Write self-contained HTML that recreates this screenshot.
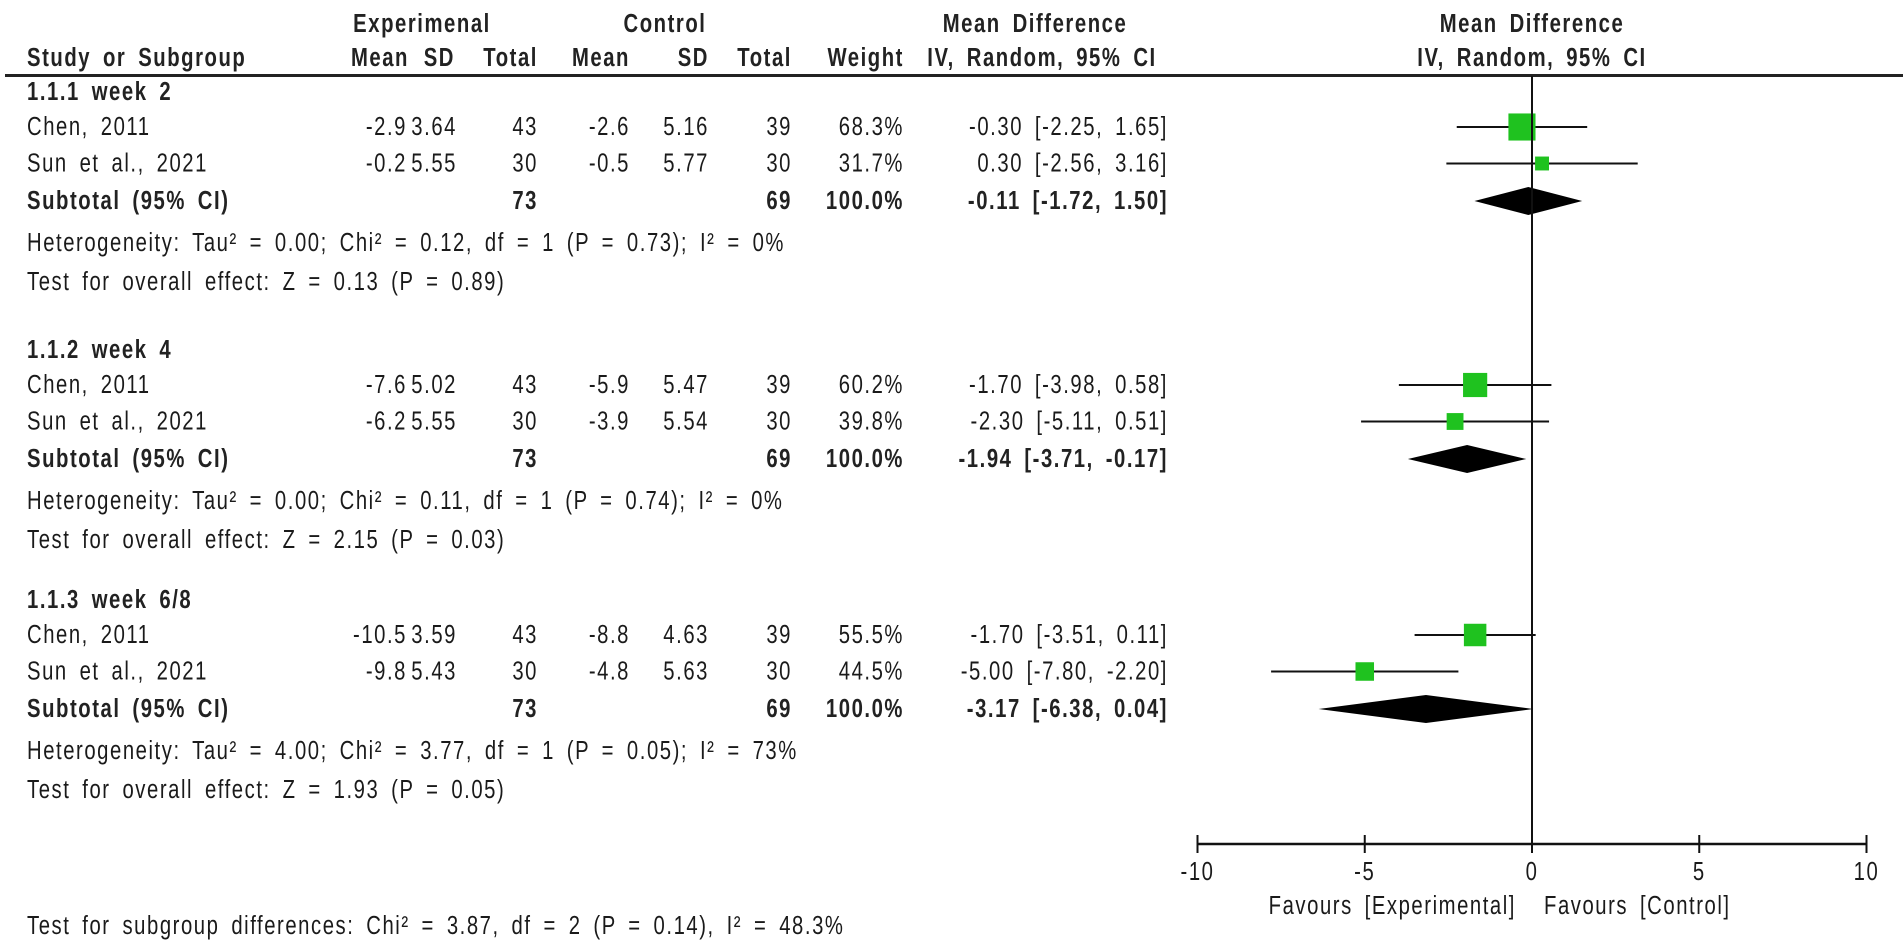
<!DOCTYPE html>
<html><head><meta charset="utf-8"><style>
html,body{margin:0;padding:0;background:#fff;}
svg{display:block;font-family:"Liberation Sans Narrow","Liberation Sans",sans-serif;}
text{font-size:26px;fill:#1a1a1a;letter-spacing:2px;word-spacing:6px;}
.b{font-weight:bold;fill:#222;}
</style></head><body>
<svg id="plot" width="1903" height="941" viewBox="0 0 1903 941">
<g>
<text class="b" x="422" y="32" text-anchor="middle">Experimenal</text>
<text class="b" x="665" y="32" text-anchor="middle">Control</text>
<text class="b" x="1035" y="32" text-anchor="middle">Mean Difference</text>
<text class="b" x="1532" y="32" text-anchor="middle">Mean Difference</text>
<text class="b" x="27" y="66">Study or Subgroup</text>
<text class="b" x="409" y="66" text-anchor="end">Mean</text>
<text class="b" x="455" y="66" text-anchor="end">SD</text>
<text class="b" x="538" y="66" text-anchor="end">Total</text>
<text class="b" x="630" y="66" text-anchor="end">Mean</text>
<text class="b" x="709" y="66" text-anchor="end">SD</text>
<text class="b" x="792" y="66" text-anchor="end">Total</text>
<text class="b" x="904" y="66" text-anchor="end">Weight</text>
<text class="b" x="1042" y="66" text-anchor="middle">IV, Random, 95% CI</text>
<text class="b" x="1532" y="66" text-anchor="middle">IV, Random, 95% CI</text>
<rect x="5" y="74" width="1898" height="3" fill="#222"/>
</g>
<g id="rows"></g>
<g id="marks"></g>
<text x="27" y="934">Test for subgroup differences: Chi² = 3.87, df = 2 (P = 0.14), I² = 48.3%</text>
</svg>
<script>
const groups = ["1.1.1 week 2","1.1.2 week 4","1.1.3 week 6/8"];
const studies = ["Chen, 2011","Sun et al., 2021"];
const expMean = [[-2.9,-0.2],[-7.6,-6.2],[-10.5,-9.8]];
const expSD = [["3.64","5.55"],["5.02","5.55"],["3.59","5.43"]];
const expN = [[43,30],[43,30],[43,30]];
const ctrlMean = [[-2.6,-0.5],[-5.9,-3.9],[-8.8,-4.8]];
const ctrlSD = [["5.16","5.77"],["5.47","5.54"],["4.63","5.63"]];
const ctrlN = [[39,30],[39,30],[39,30]];
const weights = [[68.3,31.7],[60.2,39.8],[55.5,44.5]];
const md = [[-0.30,0.30],[-1.70,-2.30],[-1.70,-5.00]];
const lo = [[-2.25,-2.56],[-3.98,-5.11],[-3.51,-7.80]];
const hi = [[1.65,3.16],[0.58,0.51],[0.11,-2.20]];
const subMd = [-0.11,-1.94,-3.17];
const subLo = [-1.72,-3.71,-6.38];
const subHi = [1.50,-0.17,0.04];
const hetText = ["Heterogeneity: Tau² = 0.00; Chi² = 0.12, df = 1 (P = 0.73); I² = 0%","Heterogeneity: Tau² = 0.00; Chi² = 0.11, df = 1 (P = 0.74); I² = 0%","Heterogeneity: Tau² = 4.00; Chi² = 3.77, df = 1 (P = 0.05); I² = 73%"];
const effText = ["Test for overall effect: Z = 0.13 (P = 0.89)","Test for overall effect: Z = 2.15 (P = 0.03)","Test for overall effect: Z = 1.93 (P = 0.05)"];
const ticks = [-10,-5,0,5,10];

const NS="http://www.w3.org/2000/svg";
const X0=1532, XS=33.45, AXY=844;
const xs=v=>X0+v*XS;
const rows=document.getElementById('rows'), marks=document.getElementById('marks');
function el(tag,attrs,parent,txt){const e=document.createElementNS(NS,tag);for(const k in attrs)e.setAttribute(k,attrs[k]);if(txt!==undefined)e.textContent=txt;parent.appendChild(e);return e;}
function t(x,y,s,anchor,bold,name){const e=el('text',{x:x,y:y,'text-anchor':anchor||'start'},rows,s);if(bold)e.setAttribute('class','b');


return e;}
const f2=v=>v.toFixed(2), f1=v=>v.toFixed(1);
const groupY=[92,350,600];
groups.forEach((g,gi)=>{
  const y0=groupY[gi];
  t(27,y0+8,g,'start',true,'group-title');
  for(let si=0;si<2;si++){
    const y=y0+35+si*36.5, by=y+8;
    t(27,by,studies[si],'start',false,'study-name');
    t(407,by,f1(expMean[gi][si]),'end',false,'exp-mean');
    t(457,by,expSD[gi][si],'end',false,'exp-sd');
    t(538,by,expN[gi][si],'end',false,'exp-total');
    t(630,by,f1(ctrlMean[gi][si]),'end',false,'ctrl-mean');
    t(709,by,ctrlSD[gi][si],'end',false,'ctrl-sd');
    t(792,by,ctrlN[gi][si],'end',false,'ctrl-total');
    t(904,by,weights[gi][si].toFixed(1)+'%','end',false,'weight');
    t(1168,by,f2(md[gi][si])+' ['+f2(lo[gi][si])+', '+f2(hi[gi][si])+']','end',false,'ci-text');
    const ln=el('line',{x1:xs(lo[gi][si]),x2:xs(hi[gi][si]),y1:y,y2:y,stroke:'#111','stroke-width':2},marks);
    
    
    const s=weights[gi][si]*0.36+2.5;
    const r=el('rect',{x:xs(md[gi][si])-s/2,y:y-s/2,width:s,height:s,fill:'#1fc21f'},marks);
    
    
  }
  const sy=y0+109, sby=sy+8;
  t(27,sby,'Subtotal (95% CI)','start',true,'subtotal-label');
  t(538,sby,expN[gi][0]+expN[gi][1],'end',true,'subtotal-exp-total');
  t(792,sby,ctrlN[gi][0]+ctrlN[gi][1],'end',true,'subtotal-ctrl-total');
  t(904,sby,'100.0%','end',true,'subtotal-weight');
  t(1168,sby,f2(subMd[gi])+' ['+f2(subLo[gi])+', '+f2(subHi[gi])+']','end',true,'subtotal-ci');
  const d=el('polygon',{points:[xs(subLo[gi])+','+sy,xs(subMd[gi])+','+(sy-14),xs(subHi[gi])+','+sy,xs(subMd[gi])+','+(sy+14)].join(' '),fill:'#000'},marks);
  
  
  t(27,y0+159,hetText[gi],'start',false,'heterogeneity-text');
  t(27,y0+198,effText[gi],'start',false,'overall-effect-text');
});
const zl=el('line',{x1:X0,x2:X0,y1:76,y2:AXY,stroke:'#111','stroke-width':2},marks);


const ax=el('line',{x1:xs(-10),x2:xs(10),y1:AXY,y2:AXY,stroke:'#111','stroke-width':2.5},marks);


ticks.forEach(v=>{
  const tk=el('line',{x1:xs(v),x2:xs(v),y1:AXY-9,y2:AXY+9,stroke:'#111','stroke-width':2},marks);
  
  
  const lb=el('text',{x:xs(v),y:AXY+36,'text-anchor':'middle'},marks,String(v));
  
  
});
const fe=el('text',{x:xs(0)-16,y:914,'text-anchor':'end'},marks,'Favours [Experimental]');


const fc=el('text',{x:xs(0)+12,y:914,'text-anchor':'start'},marks,'Favours [Control]');


// condense all text to mimic a narrow face
document.querySelectorAll('#plot text').forEach(e=>{
  const x=e.getAttribute('x'), y=e.getAttribute('y');
  e.setAttribute('x',0); e.setAttribute('y',0);
  e.setAttribute('transform','translate('+x+','+y+') scale(0.78,1)');
});
</script>
</body></html>
